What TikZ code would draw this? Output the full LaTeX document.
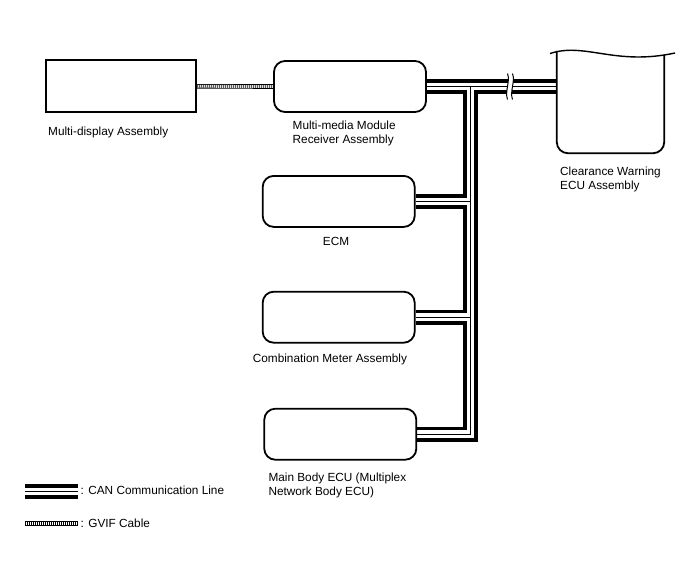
\documentclass[tikz,border=0pt]{standalone}
\usepackage{fontspec}
\setmainfont{Liberation Sans}
\usepackage{tikz}
\usetikzlibrary{calc}
\usetikzlibrary{positioning}
\usetikzlibrary{backgrounds}

\tikzset{
	ecubox/.style={draw, line width=1.8pt, rounded corners=11pt, minimum width=152pt, minimum height=51pt, inner sep=0pt},
	lbl/.style={font=\fontsize{11.8}{13.8}\selectfont, inner sep=0pt, align=left, anchor=base west},
	canbus/.style={draw, line width=15pt, postaction={draw=white, line width=7.5pt}, postaction={draw=black, line width=1.3pt}},
	gvif/.style={draw, line width=4.6pt, postaction={draw=white, line width=2.8pt}, postaction={draw=black, line width=2.8pt, dash pattern=on 0.8pt off 1.2pt}}
}

\begin{document}
\begin{tikzpicture}[x=1pt, y=-1pt]
					\useasboundingbox (0,0) rectangle (688,560);

					\node[draw, line width=1.8pt, minimum width=150pt, minimum height=52pt, inner sep=0pt] (disp) at (121, 86.3) {};
					\node[ecubox] (mmr) at (350, 86.5) {};
					\node[ecubox] (ecm) at (338.7, 201.4) {};
					\node[ecubox] (meter) at (338.7, 317.2) {};
					\node[ecubox] (mbecu) at (340.3, 434.2) {};
					\node[minimum width=107pt, minimum height=98pt, inner sep=0pt] (clr) at (610.5, 104) {};

					\draw[line width=1.8pt, rounded corners=11pt] ([yshift=4pt]clr.north west) -- (clr.south west) -- (clr.south east) -- (clr.north east);
					\draw[line width=1.4pt] (550, 53.5) .. controls (585, 42) and (615, 66) .. (675, 53);

					\node[lbl] (displbl) at (48, 135.5) {Multi-display Assembly};
					\node[lbl] (mmrlbl) at (292.5, 143.5) {Multi-media Module\\Receiver Assembly};
					\node[lbl] (clrlbl) at (560, 189) {Clearance Warning\\ECU Assembly};
					\node[lbl, anchor=base] (ecmlbl) at (336, 245.7) {ECM};
					\node[lbl] (meterlbl) at (252.7, 362) {Combination Meter Assembly};
					\node[lbl] (mbeculbl) at (268.3, 495) {Main Body ECU (Multiplex\\Network Body ECU)};

					\coordinate (canL) at (25, 491.5);
					\coordinate (canR) at (78, 491.5);
					\coordinate (gvifL) at (25, 523.3);
					\coordinate (gvifR) at (78, 523.3);
					\node[lbl] (canlbl) at (80.5, 494) {: CAN Communication Line};
					\node[lbl] (gviflbl) at (80.5, 527.7) {: GVIF Cable};

					\begin{scope}[on background layer]
						\coordinate (jT) at (470.5, 86.5);
						\coordinate (brk) at (510, 86.5);
						\draw[canbus] (mmr.east) -- (mmr.east -| clr.west)
							(jT) |- (mbecu.east)
							(ecm.east) -- (ecm.east -| jT)
							(meter.east) -- (meter.east -| jT);
						\fill[white] ([shift={(-2.5,-13)}]brk) .. controls +(3,8) and +(-3,-8) .. ([shift={(-2.5,13)}]brk)
							-- ([shift={(2.5,13)}]brk) .. controls +(-3,-8) and +(3,8) .. ([shift={(2.5,-13)}]brk) -- cycle;
						\draw[line width=1pt] ([shift={(-2.5,-13)}]brk) .. controls +(3,8) and +(-3,-8) .. ([shift={(-2.5,13)}]brk);
						\draw[line width=1pt] ([shift={(2.5,-13)}]brk) .. controls +(3,8) and +(-3,-8) .. ([shift={(2.5,13)}]brk);
						\draw[gvif] (disp.east) -- (mmr.west);
						\draw[canbus] (canL) -- (canR);
						\draw[gvif] (gvifL) -- (gvifR);
					\end{scope}
                \end{tikzpicture}
\end{document}
